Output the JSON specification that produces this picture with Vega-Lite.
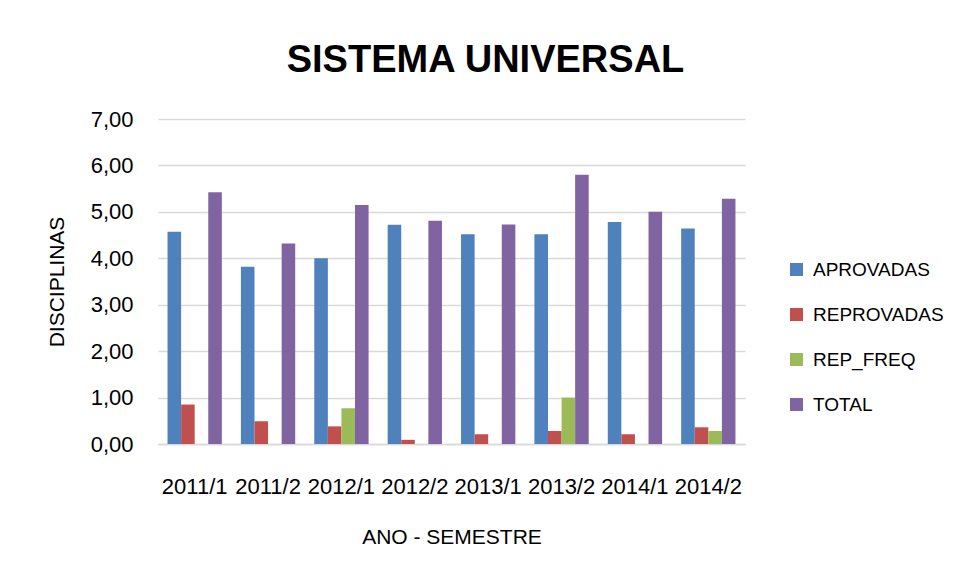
{
  "$schema": "https://vega.github.io/schema/vega-lite/v6.json",
  "autosize": {"type": "none"},
  "width": 587,
  "height": 325,
  "padding": {"left": 158, "top": 119, "right": 210, "bottom": 135},
  "background": "white",
  "config": {
    "locale": {"number": {"decimal": ",", "thousands": ".", "grouping": [3], "currency": ["R$", ""]}},
    "font": "Liberation Sans",
    "view": {"stroke": null}
  },
  "title": {
    "text": "SISTEMA UNIVERSAL",
    "font": "Liberation Sans",
    "fontSize": 38,
    "fontWeight": "bold",
    "color": "#000000",
    "anchor": "middle",
    "frame": "group",
    "dx": 34,
    "offset": 28
  },
  "data": {
    "values": [
      {"periodo": "2011/1", "tipo": "APROVADAS", "valor": 4.57},
      {"periodo": "2011/1", "tipo": "REPROVADAS", "valor": 0.85},
      {"periodo": "2011/1", "tipo": "REP_FREQ", "valor": 0},
      {"periodo": "2011/1", "tipo": "TOTAL", "valor": 5.42},
      {"periodo": "2011/2", "tipo": "APROVADAS", "valor": 3.82},
      {"periodo": "2011/2", "tipo": "REPROVADAS", "valor": 0.49},
      {"periodo": "2011/2", "tipo": "REP_FREQ", "valor": 0},
      {"periodo": "2011/2", "tipo": "TOTAL", "valor": 4.32},
      {"periodo": "2012/1", "tipo": "APROVADAS", "valor": 4.0},
      {"periodo": "2012/1", "tipo": "REPROVADAS", "valor": 0.38},
      {"periodo": "2012/1", "tipo": "REP_FREQ", "valor": 0.77},
      {"periodo": "2012/1", "tipo": "TOTAL", "valor": 5.15},
      {"periodo": "2012/2", "tipo": "APROVADAS", "valor": 4.72},
      {"periodo": "2012/2", "tipo": "REPROVADAS", "valor": 0.09},
      {"periodo": "2012/2", "tipo": "REP_FREQ", "valor": 0},
      {"periodo": "2012/2", "tipo": "TOTAL", "valor": 4.81},
      {"periodo": "2013/1", "tipo": "APROVADAS", "valor": 4.52},
      {"periodo": "2013/1", "tipo": "REPROVADAS", "valor": 0.21},
      {"periodo": "2013/1", "tipo": "REP_FREQ", "valor": 0},
      {"periodo": "2013/1", "tipo": "TOTAL", "valor": 4.73},
      {"periodo": "2013/2", "tipo": "APROVADAS", "valor": 4.52},
      {"periodo": "2013/2", "tipo": "REPROVADAS", "valor": 0.28},
      {"periodo": "2013/2", "tipo": "REP_FREQ", "valor": 1.0},
      {"periodo": "2013/2", "tipo": "TOTAL", "valor": 5.8},
      {"periodo": "2014/1", "tipo": "APROVADAS", "valor": 4.78},
      {"periodo": "2014/1", "tipo": "REPROVADAS", "valor": 0.21},
      {"periodo": "2014/1", "tipo": "REP_FREQ", "valor": 0},
      {"periodo": "2014/1", "tipo": "TOTAL", "valor": 5.0},
      {"periodo": "2014/2", "tipo": "APROVADAS", "valor": 4.64},
      {"periodo": "2014/2", "tipo": "REPROVADAS", "valor": 0.36},
      {"periodo": "2014/2", "tipo": "REP_FREQ", "valor": 0.28},
      {"periodo": "2014/2", "tipo": "TOTAL", "valor": 5.28}
    ]
  },
  "mark": {"type": "bar"},
  "encoding": {
    "x": {
      "field": "periodo",
      "type": "nominal",
      "sort": null,
      "scale": {"paddingInner": 0.26, "paddingOuter": 0.13},
      "axis": {
        "title": "ANO - SEMESTRE",
        "titleFontSize": 21,
        "titleFontWeight": "normal",
        "titleColor": "#000000",
        "titleBaseline": "alphabetic",
        "titleY": 99,
        "labelAngle": 0,
        "labelFontSize": 22,
        "labelColor": "#000000",
        "labelBaseline": "alphabetic",
        "labelPadding": 49,
        "ticks": false,
        "domainColor": "#d9d9d9",
        "domainWidth": 1.5,
        "labelOverlap": false
      }
    },
    "xOffset": {
      "field": "tipo",
      "type": "nominal",
      "sort": ["APROVADAS", "REPROVADAS", "REP_FREQ", "TOTAL"],
      "scale": {"paddingInner": 0, "paddingOuter": 0}
    },
    "y": {
      "field": "valor",
      "type": "quantitative",
      "scale": {"domain": [0, 7], "nice": false},
      "axis": {
        "title": "DISCIPLINAS",
        "titleFontSize": 21,
        "titleFontWeight": "normal",
        "titleColor": "#000000",
        "titleAngle": -90,
        "titleBaseline": "alphabetic",
        "titleAlign": "center",
        "titleX": -95,
        "titleY": 162.5,
        "values": [0, 1, 2, 3, 4, 5, 6, 7],
        "format": ".2f",
        "labelFontSize": 22,
        "labelColor": "#000000",
        "labelPadding": 25,
        "ticks": false,
        "domain": false,
        "gridColor": "#d9d9d9",
        "gridWidth": 1.5
      }
    },
    "color": {
      "field": "tipo",
      "type": "nominal",
      "scale": {
        "domain": ["APROVADAS", "REPROVADAS", "REP_FREQ", "TOTAL"],
        "range": ["#4F81BD", "#C0504D", "#9BBB59", "#8064A2"]
      },
      "legend": {
        "title": null,
        "orient": "none",
        "legendX": 629,
        "legendY": 141,
        "symbolType": "square",
        "symbolSize": 169,
        "symbolStrokeWidth": 0,
        "labelFontSize": 19,
        "labelColor": "#000000",
        "labelOffset": 7,
        "rowPadding": 25
      }
    }
  }
}
